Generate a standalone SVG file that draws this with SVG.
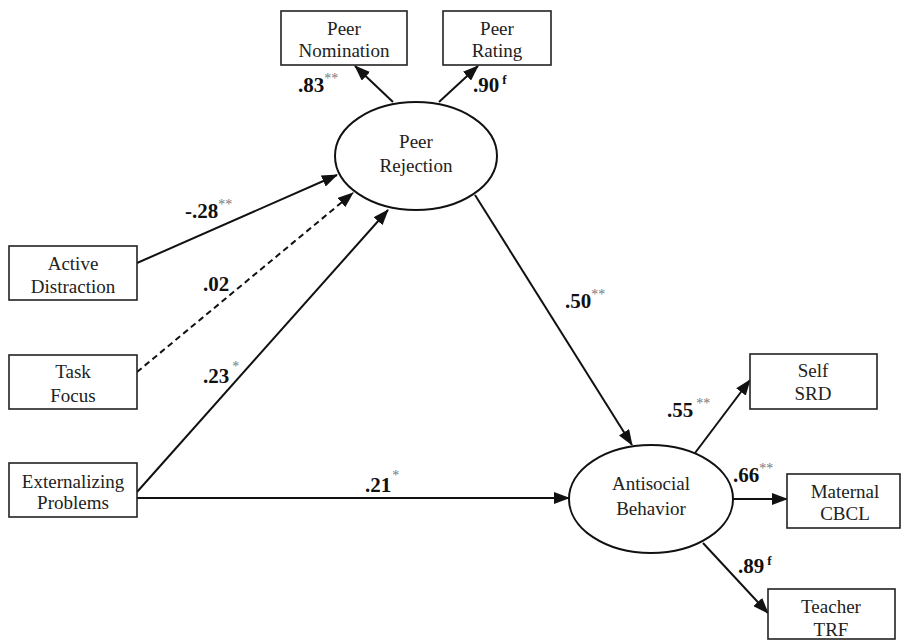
<svg xmlns="http://www.w3.org/2000/svg" width="903" height="640" viewBox="0 0 903 640">
<style>
.box{fill:#fff;stroke:#222;stroke-width:1.6}
.ell{fill:#fff;stroke:#111;stroke-width:2}
.t{font-family:"Liberation Serif","Times New Roman",serif;font-size:19px;fill:#222;text-anchor:middle}
.c{stroke:#111;stroke-width:2;fill:none;marker-end:url(#ah)}
.d{stroke-dasharray:6,4}
.lb{font-family:"Liberation Serif","Times New Roman",serif;font-size:21px;font-weight:bold;fill:#111}
.s{font-size:14px;font-weight:normal;fill:#777}
.f{font-size:13px;font-weight:bold;fill:#111}
</style>
<defs>
<marker id="ah" markerUnits="userSpaceOnUse" markerWidth="16" markerHeight="12" refX="15" refY="6" orient="auto">
<path d="M0,0 L16,6 L0,12 z" fill="#111"/>
</marker>
</defs>
<rect width="903" height="640" fill="#fff"/>
<g id="connectors">
<line class="c" x1="393" y1="102" x2="355" y2="66"/>
<line class="c" x1="439" y1="102" x2="478" y2="66"/>
<line class="c" x1="137" y1="263" x2="337" y2="175"/>
<line class="c d" x1="137" y1="372" x2="353" y2="193"/>
<line class="c" x1="137" y1="492" x2="388" y2="210"/>
<line class="c" x1="137" y1="498" x2="569" y2="498"/>
<line class="c" x1="475" y1="195" x2="632" y2="445"/>
<line class="c" x1="695" y1="453" x2="750" y2="380"/>
<line class="c" x1="733" y1="499" x2="787" y2="499"/>
<line class="c" x1="703" y1="543" x2="768" y2="613"/>
</g>
<g id="labels">
<text class="lb" x="185" y="218">-.28<tspan class="s" dy="-9">**</tspan></text>
<text class="lb" x="203" y="291">.02</text>
<text class="lb" x="203" y="383">.23<tspan class="s" dx="3" dy="-12">*</tspan></text>
<text class="lb" x="365" y="492">.21<tspan class="s" dx="1" dy="-12">*</tspan></text>
<text class="lb" x="298" y="92">.83<tspan class="s" dy="-9">**</tspan></text>
<text class="lb" x="473" y="92">.90<tspan class="f" dx="3" dy="-8">f</tspan></text>
<text class="lb" x="565" y="308">.50<tspan class="s" dy="-9">**</tspan></text>
<text class="lb" x="667" y="417">.55<tspan class="s" dx="3" dy="-9">**</tspan></text>
<text class="lb" x="733" y="482">.66<tspan class="s" dy="-9">**</tspan></text>
<text class="lb" x="738" y="573">.89<tspan class="f" dx="3" dy="-8">f</tspan></text>
</g>
<g id="peer-nomination"><rect class="box" x="281" y="11" width="126" height="54"/><text class="t" x="344" y="35">Peer</text><text class="t" x="344" y="57">Nomination</text></g>
<g id="peer-rating"><rect class="box" x="443" y="11" width="108" height="54"/><text class="t" x="497" y="35">Peer</text><text class="t" x="497" y="57">Rating</text></g>
<g id="peer-rejection"><ellipse class="ell" cx="416" cy="156" rx="81" ry="54"/><text class="t" x="416" y="148">Peer</text><text class="t" x="416" y="172">Rejection</text></g>
<g id="active-distraction"><rect class="box" x="9" y="246" width="128" height="54"/><text class="t" x="73" y="270">Active</text><text class="t" x="73" y="293">Distraction</text></g>
<g id="task-focus"><rect class="box" x="9" y="355" width="128" height="54"/><text class="t" x="73" y="378">Task</text><text class="t" x="73" y="402">Focus</text></g>
<g id="externalizing-problems"><rect class="box" x="9" y="463" width="128" height="54"/><text class="t" x="73" y="488">Externalizing</text><text class="t" x="73" y="509">Problems</text></g>
<g id="antisocial-behavior"><ellipse class="ell" cx="651" cy="499" rx="82" ry="54"/><text class="t" x="651" y="490">Antisocial</text><text class="t" x="651" y="515">Behavior</text></g>
<g id="self-srd"><rect class="box" x="750" y="354" width="127" height="55"/><text class="t" x="813" y="377">Self</text><text class="t" x="813" y="400">SRD</text></g>
<g id="maternal-cbcl"><rect class="box" x="787" y="474" width="113" height="54"/><text class="t" x="845" y="498">Maternal</text><text class="t" x="845" y="520">CBCL</text></g>
<g id="teacher-trf"><rect class="box" x="768" y="589" width="127" height="50"/><text class="t" x="831" y="613">Teacher</text><text class="t" x="831" y="636">TRF</text></g>
</svg>
